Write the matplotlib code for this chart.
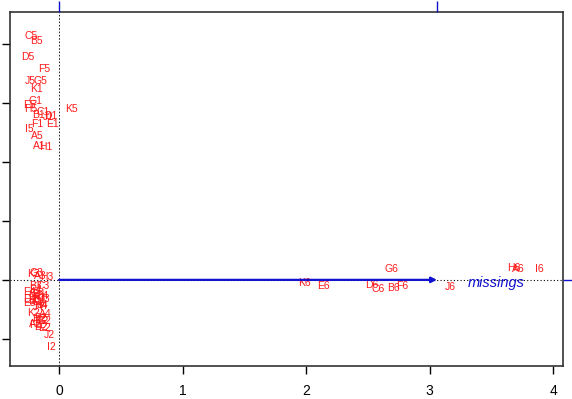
import numpy as np
import matplotlib.pyplot as plt

# -----------------------
# Dados (coordenadas do biplot)
# -----------------------
obs_labels = ["C5", "B5", "D5", "F5", "J5", "G5", "K1", "G1", "E5", "H5", "K5",
              "B1", "C1", "D1", "J1", "F1", "E1", "I5", "A5", "A1", "H1",
              "K3", "G3", "A3", "H3", "B3", "C3", "E4", "F4", "B4", "D4", "I3",
              "J3", "E3", "G4", "C4", "H4", "D3", "F3", "I4", "J4", "K4",
              "K2", "A4", "B2", "G2", "C2", "H2", "A2", "F2", "D2", "E2", "J2", "I2",
              "K6", "E6", "G6", "D6", "C6", "B6", "F6", "J6", "H6", "A6", "I6"]
obs_x = [-0.23, -0.18, -0.25, -0.12, -0.23, -0.15, -0.18, -0.19, -0.24, -0.23, 0.10,
         -0.17, -0.13, -0.07, -0.09, -0.18, -0.05, -0.24, -0.18, -0.16, -0.11,
         -0.21, -0.18, -0.15, -0.10, -0.19, -0.13, -0.24, -0.19, -0.17, -0.24, -0.11,
         -0.19, -0.24, -0.17, -0.14, -0.15, -0.20, -0.16, -0.13, -0.17, -0.20,
         -0.21, -0.11, -0.15, -0.12, -0.14, -0.16, -0.19, -0.19, -0.15, -0.12, -0.08, -0.06,
         1.99, 2.14, 2.69, 2.53, 2.58, 2.71, 2.78, 3.17, 3.68, 3.72, 3.89]
obs_y = [4.14, 4.05, 3.78, 3.58, 3.37, 3.37, 3.24, 3.03, 2.97, 2.90, 2.90,
         2.80, 2.85, 2.78, 2.76, 2.64, 2.64, 2.56, 2.44, 2.27, 2.25,
         0.10, 0.12, 0.07, 0.05, -0.10, -0.10, -0.20, -0.18, -0.24, -0.32, -0.32,
         -0.34, -0.40, -0.38, -0.28, -0.44, -0.36, -0.30, -0.42, -0.46, -0.26,
         -0.56, -0.58, -0.64, -0.70, -0.70, -0.66, -0.74, -0.76, -0.80, -0.82, -0.93, -1.13,
         -0.05, -0.10, 0.19, -0.08, -0.15, -0.14, -0.10, -0.12, 0.20, 0.19, 0.19]

var_name = "missings"
var_x = 3.06
var_y = 0.0

# -----------------------
# Figura
# -----------------------
fig = plt.figure(figsize=(5.72, 3.99), dpi=100)
ax = fig.add_axes([10 / 572, 33 / 399, 553 / 572, 354 / 399])

xlim = (-0.397, 4.08)
ylim = (-1.46, 4.54)

for lab, x, y in zip(obs_labels, obs_x, obs_y):
    ax.text(x, y, lab, color="#ff1a1a", fontsize=7.5, ha="center", va="center",
            family="Liberation Sans")

ax.axhline(0, color="black", linestyle=(0, (1, 2)), linewidth=0.8)
ax.axvline(0, color="black", linestyle=(0, (2, 2)), linewidth=0.6)

ax.annotate("", xy=(var_x, var_y), xytext=(0, 0),
            arrowprops=dict(arrowstyle="-|>", color="#1010d0", lw=1.6,
                            mutation_scale=8, shrinkA=0, shrinkB=0))
ax.text(3.54, -0.05, var_name, color="#1010d0", fontsize=10.5, style="italic",
        ha="center", va="center", family="Liberation Sans")

ax.set_xlim(*xlim)
ax.set_ylim(*ylim)
ax.set_xticks([0, 1, 2, 3, 4])
ax.set_yticks([-1, 0, 1, 2, 3, 4])
ax.set_yticklabels([])
ax.tick_params(direction="out", length=6, width=1, pad=7, labelsize=10)
for lbl in ax.get_xticklabels():
    lbl.set_family("Liberation Sans")
for s in ax.spines.values():
    s.set_linewidth(1.2)
    s.set_color("#333333")

# eixos secundarios (escala da variavel)
ax_top = ax.twiny()
ax_top.set_xlim(*xlim)
ax_top.set_xticks([0, var_x])
ax_top.set_xticklabels([])
ax_top.tick_params(axis="x", colors="#1010d0", length=8, width=1)

ax_right = ax.twinx()
ax_right.set_ylim(*ylim)
ax_right.set_yticks([0])
ax_right.set_yticklabels([])
ax_right.tick_params(axis="y", colors="#1010d0", length=9, width=1)
for a in (ax_top, ax_right):
    for s in a.spines.values():
        s.set_visible(False)

fig.savefig("out.png", dpi=100)
